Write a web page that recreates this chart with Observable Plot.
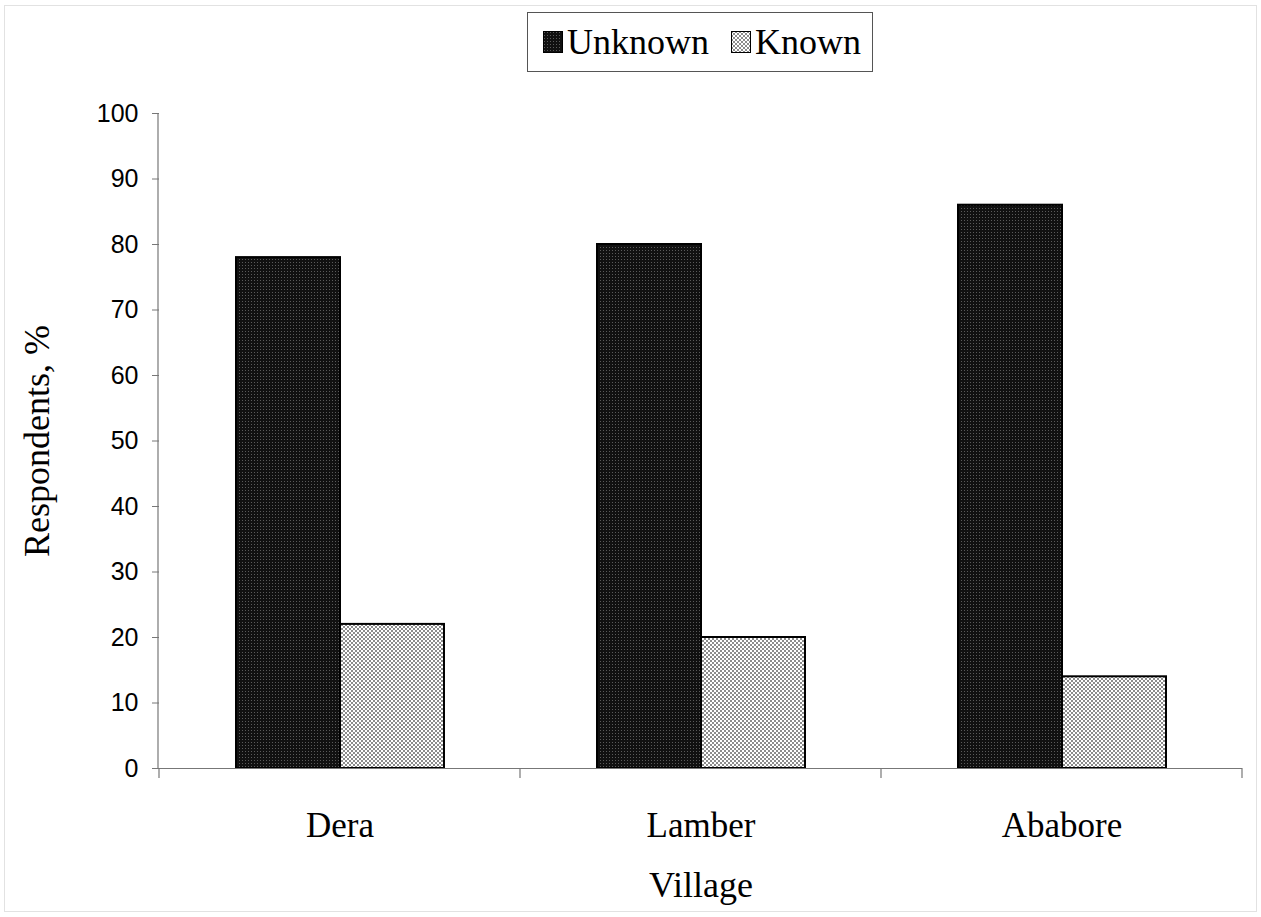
<!DOCTYPE html>
<html>
<head>
<meta charset="utf-8">
<script src="https://cdn.jsdelivr.net/npm/d3@7"></script>
<script src="https://cdn.jsdelivr.net/npm/@observablehq/plot@0.6"></script>
<style>
  html, body { margin: 0; padding: 0; background: #fff; }
  #wrap { position: relative; width: 1261px; height: 917px; overflow: hidden; }
  #border { position: absolute; left: 4px; top: 5px; width: 1253px; height: 907px; border: 1px solid #e2e2e2; box-sizing: border-box; }
  #legend { position: absolute; left: 527px; top: 12px; width: 346px; height: 60px; border: 1.5px solid #555; box-sizing: border-box;
            font-family: "Liberation Serif", "DejaVu Serif", serif; font-size: 36px; display: flex; align-items: center; padding-left: 15px; background: #fff; }
  .item { display: flex; align-items: center; margin-right: 22px; }
  .item svg { margin-right: 4px; }
  #chart { position: absolute; left: 0; top: 0; }
</style>
</head>
<body>
<div id="wrap">
  <div id="border"></div>
  <div id="chart"></div>
  <div id="legend"></div>
</div>
<script>
const villages = ["Dera", "Lamber", "Ababore"];
const seriesNames = ["Unknown", "Known"];
const unknownValues = [78, 80, 86];
const knownValues = [22, 20, 14];
const yTicks = [0, 10, 20, 30, 40, 50, 60, 70, 80, 90, 100];
const patternIds = ["patUnknown", "patKnown"];

const data = villages.flatMap((v, i) => [
  {village: v, type: seriesNames[0], value: unknownValues[i]},
  {village: v, type: seriesNames[1], value: knownValues[i]}
]);

const plot = Plot.plot({
  width: 1261,
  height: 917,
  marginTop: 113,
  marginBottom: 149,
  marginLeft: 158,
  marginRight: 19,
  style: {background: "transparent", color: "#000"},
  fx: {domain: villages, padding: 0},
  x: {domain: seriesNames, paddingInner: 0, paddingOuter: 0.735, axis: null},
  y: {domain: [0, 100], axis: null},
  color: {domain: seriesNames, range: patternIds.map(id => `url(#${id})`)},
  marks: [
    Plot.barY(data, {fx: "village", x: "type", y: "value", fill: "type", stroke: "#000", strokeWidth: 2}),
    Plot.ruleY([0], {stroke: "#777", strokeWidth: 1.2}),
    Plot.axisY({ticks: yTicks, tickSize: 7, tickPadding: 14, fontSize: 25, fontFamily: "Liberation Sans, Arial, sans-serif",
                stroke: "#777", label: "Respondents, %", labelAnchor: "center", labelOffset: 136, labelArrow: "none"}),
    Plot.axisFx({anchor: "bottom", tickSize: 0, tickPadding: 44, fontSize: 35, fontFamily: "Liberation Serif, DejaVu Serif, serif",
                 label: "Village", labelAnchor: "center", labelOffset: 128, labelArrow: "none"})
  ]
});

const svg = d3.select(plot);
const defs = svg.insert("defs", ":first-child");
// Unknown: black with fine gray dots
const p1 = defs.append("pattern").attr("id", patternIds[0]).attr("patternUnits", "userSpaceOnUse").attr("width", 3).attr("height", 3);
p1.append("rect").attr("width", 3).attr("height", 3).attr("fill", "#111");
p1.append("rect").attr("x", 1).attr("y", 1).attr("width", 1).attr("height", 1).attr("fill", "#5a5a5a");
// Known: fine gray checkerboard
const p2 = defs.append("pattern").attr("id", patternIds[1]).attr("patternUnits", "userSpaceOnUse").attr("width", 4).attr("height", 4);
p2.append("rect").attr("width", 4).attr("height", 4).attr("fill", "#fff");
p2.append("rect").attr("x", 0).attr("y", 0).attr("width", 2).attr("height", 2).attr("fill", "#8c8c8c");
p2.append("rect").attr("x", 2).attr("y", 2).attr("width", 2).attr("height", 2).attr("fill", "#8c8c8c");

// axis lines and category boundary ticks from the plot's own scales
const fx = plot.scale("fx");
const y = plot.scale("y");
const x0 = fx.range[0];
const g = svg.append("g").attr("stroke", "#777").attr("stroke-width", 1.2);
g.append("line").attr("x1", x0).attr("x2", x0).attr("y1", y.apply(0)).attr("y2", y.apply(100));
const bounds = villages.map(v => fx.apply(v)).concat([fx.apply(villages[villages.length - 1]) + fx.bandwidth]);
bounds.forEach(b => g.append("line").attr("x1", b).attr("x2", b).attr("y1", y.apply(0)).attr("y2", y.apply(0) + 10));

svg.selectAll("text").filter(function() { return this.textContent === "Respondents, %" || this.textContent === "Village"; })
  .attr("font-family", "Liberation Serif, DejaVu Serif, serif").attr("font-size", 36);

document.getElementById("chart").appendChild(plot);

// legend
const legend = d3.select("#legend");
seriesNames.forEach((name, i) => {
  const item = legend.append("div").attr("class", "item");
  const s = item.append("svg").attr("width", 20).attr("height", 22);
  s.append("rect").attr("x", 0.5).attr("y", 0.5).attr("width", 19).attr("height", 21)
    .attr("fill", `url(#${patternIds[i]})`).attr("stroke", "#000").attr("stroke-width", 1);
  item.append("span").text(name);
});
</script>
</body>
</html>
